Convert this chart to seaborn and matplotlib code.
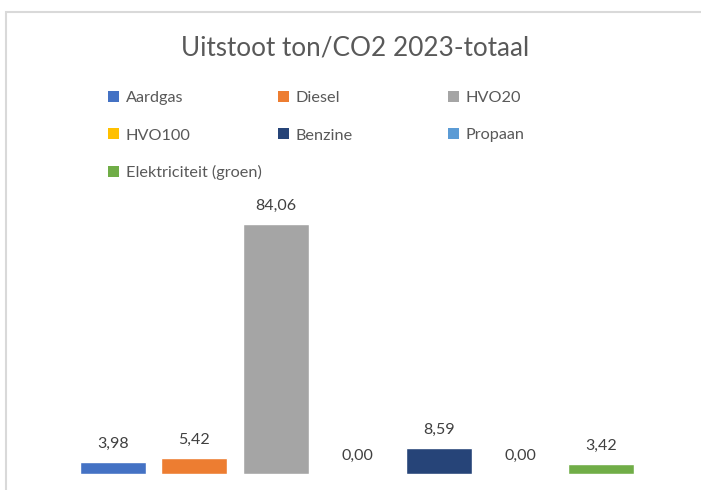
import pandas as pd
import matplotlib.pyplot as plt
import seaborn as sns
from matplotlib.patches import Patch, Rectangle

# --- data ---
brandstoffen = ["Aardgas", "Diesel", "HVO20", "HVO100", "Benzine", "Propaan", "Elektriciteit (groen)"]
uitstoot = [3.98, 5.42, 84.06, 0.00, 8.59, 0.00, 3.42]
kleuren = ["#4472C4", "#ED7D31", "#A5A5A5", "#FFC000", "#264478", "#5B9BD5", "#70AD47"]

df = pd.DataFrame({"brandstof": brandstoffen, "uitstoot": uitstoot})

sns.set_style("white")
plt.rcParams["font.family"] = ["Lato", "DejaVu Sans"]

fig = plt.figure(figsize=(7.01, 4.90), dpi=100)
ax = fig.add_axes([0.103, 0.0327, 0.813, 0.606])

sns.barplot(data=df, x="brandstof", y="uitstoot", hue="brandstof",
            palette=kleuren, dodge=False, width=0.81, legend=False,
            saturation=1, ax=ax)

ax.set_xlim(-0.5, len(brandstoffen) - 0.5)
ax.set_ylim(0, 100)
ax.set_xlabel("")
ax.set_ylabel("")
ax.set_xticks([])
ax.set_yticks([])
for s in ax.spines.values():
    s.set_visible(False)

# --- labels met komma ---
for cont in ax.containers:
    waarden = [b.get_height() for b in cont]
    ax.bar_label(cont, labels=[f"{v:.2f}".replace(".", ",") for v in waarden],
                 padding=8, fontsize=11.5, color="#404040")

fig.text(0.506, 0.903, "Uitstoot ton/CO2 2023-totaal", ha="center", va="center",
         fontsize=18.8, color="#595959")

# --- legenda, rij voor rij zoals Excel ---
handles = [Patch(facecolor=k, edgecolor="none") for k in kleuren]
kolommen = [[0, 3, 6], [1, 4], [2, 5]]
kol_x = [108 / 701, 278 / 701, 448 / 701]
for idx, x in zip(kolommen, kol_x):
    leg = fig.legend([handles[i] for i in idx], [brandstoffen[i] for i in idx],
                     loc="upper left", bbox_to_anchor=(x, 1 - 91 / 490),
                     frameon=False, borderpad=0, borderaxespad=0,
                     handlelength=0.7, handleheight=0.7, handletextpad=0.4,
                     labelspacing=1.4, fontsize=11.7, labelcolor="#595959")

# rand van de grafiek
fig.patches.append(Rectangle((6 / 701, -0.1), 1.2, 1.1 - 12 / 490, transform=fig.transFigure,
                             fill=False, edgecolor="#d9d9d9", lw=1.5))

plt.savefig("out.png", dpi=100)
